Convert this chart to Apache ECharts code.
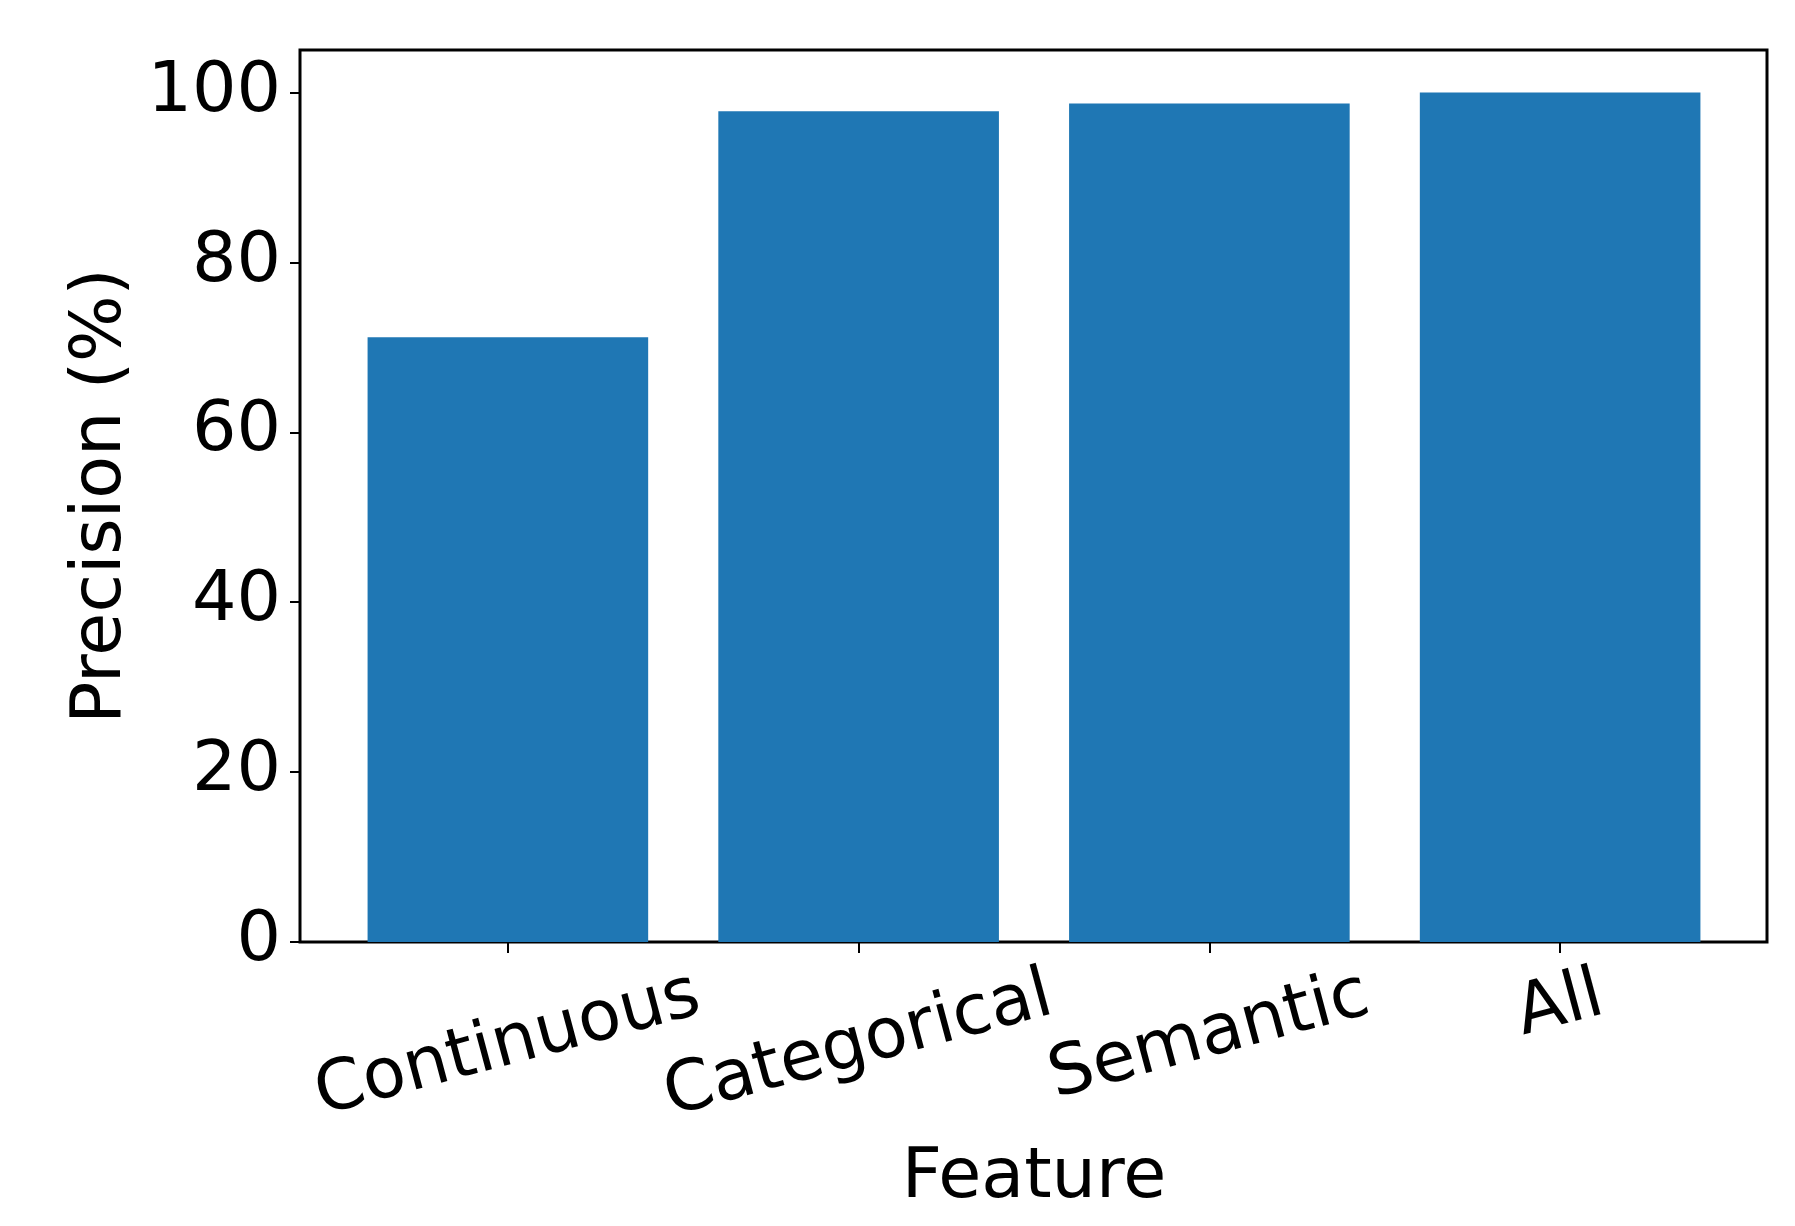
<!DOCTYPE html>
<html>
<head>
<meta charset="utf-8">
<script src="https://cdn.jsdelivr.net/npm/echarts@6/dist/echarts.min.js"></script>
<style>
    html, body { margin: 0; padding: 0; background: #fff; }
    #chart { width: 1795px; height: 1226px; }
</style>
</head>
<body>
<div id="chart"></div>
<script>
// data
const features = ['Continuous', 'Categorical', 'Semantic', 'All']
const precision = [71.2, 97.8, 98.7, 100]
const yTicks = [0, 20, 40, 60, 80, 100]

const FONT = 'DejaVu Sans'
const FS = 70
const ROT = 15 * Math.PI / 180

// matplotlib rotates the label box and centres it under the tick, echarts rotates
// around the anchor, so shift each label with padding to get the same place
const ctx = document.createElement('canvas').getContext('2d')
ctx.font = FS + 'px ' + FONT
const catData = features.map(name => {
    const w = ctx.measureText(name).width
    const d = (w * Math.sin(ROT) + 68 * Math.cos(ROT)) / 2
    const pt = Math.max(0, d * Math.cos(ROT) - FS / 2)
    const pr = 2 * d * Math.sin(ROT)
    return {
        value: name,
        // align has to sit on the item, the axis level one is ignored when rotated
        // (padding only moves plain text vertically with top/bottom align)
        textStyle: { align: 'center', verticalAlign: 'top', padding: [pt, pr, 0, 0] }
    }
})

const chart = echarts.init(document.getElementById('chart'), null, { renderer: 'canvas' })
const opt = {
    animation: false,
    backgroundColor: '#fff',
    textStyle: { fontFamily: FONT },
    grid: [
        // bars
        { left: 332.5, right: 59.5, top: 50, bottom: 284 },
        // frame
        { left: 300, right: 28, top: 50, bottom: 284, show: true, borderColor: '#000', borderWidth: 3, backgroundColor: 'transparent' }
    ],
    xAxis: [
        {
            type: 'category',
            gridIndex: 0,
            data: catData,
            name: 'Feature',
            nameLocation: 'middle',
            nameGap: 202,
            nameTextStyle: { color: '#000', fontSize: FS, fontFamily: FONT },
            axisLine: { show: false },
            axisTick: { show: true, alignWithLabel: true, length: 11, lineStyle: { color: '#000', width: 2 } },
            axisLabel: {
                rotate: 15,
                margin: 20,
                color: '#000',
                fontSize: FS,
                fontFamily: FONT,
                interval: 0
            },
            splitLine: { show: false }
        },
        {
            type: 'value',
            gridIndex: 1,
            show: false
        }
    ],
    yAxis: [
        {
            type: 'value',
            gridIndex: 0,
            min: 0,
            max: 105,
            show: false
        },
        {
            type: 'value',
            gridIndex: 1,
            min: 0,
            max: 105,
            name: 'Precision (%)',
            nameLocation: 'middle',
            nameGap: 162,
            nameTextStyle: { color: '#000', fontSize: FS, fontFamily: FONT },
            axisLine: { show: false },
            axisTick: { show: true, length: 10, customValues: yTicks, lineStyle: { color: '#000', width: 2 } },
            axisLabel: { margin: 19, color: '#000', fontSize: FS, fontFamily: FONT, customValues: yTicks },
            splitLine: { show: false }
        }
    ],
    series: [
        {
            type: 'bar',
            xAxisIndex: 0,
            yAxisIndex: 0,
            data: precision,
            barWidth: '80%',
            itemStyle: { color: '#1f77b4' }
        }
    ]
}
chart.setOption(opt)
</script>
</body>
</html>
